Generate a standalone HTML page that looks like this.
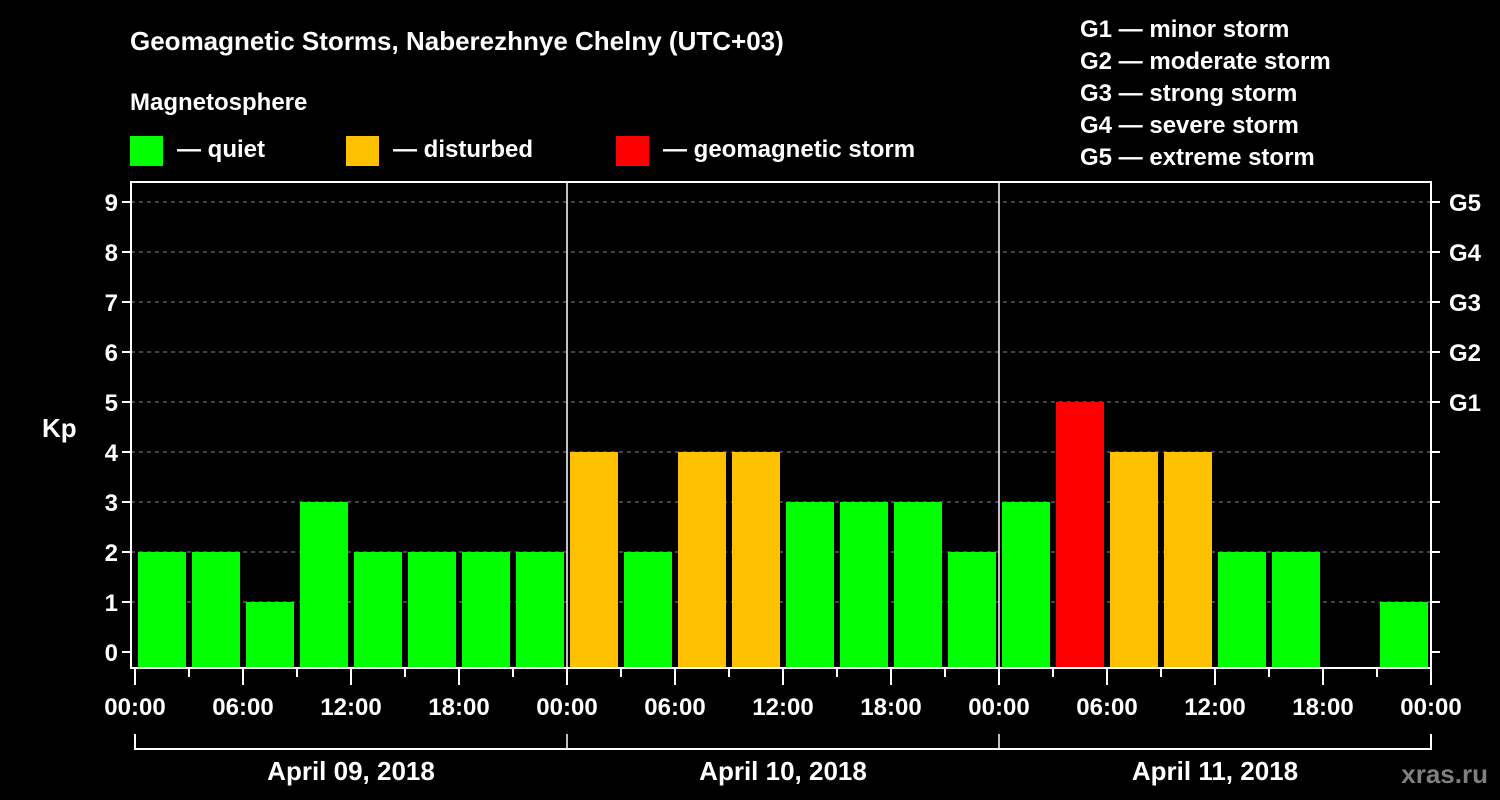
<!DOCTYPE html>
<html><head><meta charset="utf-8"><style>
body{margin:0;background:#000;width:1500px;height:800px;overflow:hidden}
svg{display:block}
text{font-family:"Liberation Sans",sans-serif;font-weight:bold;fill:#fff}
</style></head><body>
<svg id="c" width="1500" height="800">
<text x="130" y="50" font-size="26">Geomagnetic Storms, Naberezhnye Chelny (UTC+03)</text>
<text x="130" y="110" font-size="24">Magnetosphere</text>
<rect x="130" y="136" width="33" height="30" fill="#00ff00"/>
<text x="177" y="157" font-size="24">— quiet</text>
<rect x="346" y="136" width="33" height="30" fill="#ffc000"/>
<text x="393" y="157" font-size="24">— disturbed</text>
<rect x="616" y="136" width="33" height="30" fill="#ff0000"/>
<text x="663" y="157" font-size="24">— geomagnetic storm</text>
<g font-size="24">
<text x="1080" y="37">G1 — minor storm</text>
<text x="1080" y="69">G2 — moderate storm</text>
<text x="1080" y="101">G3 — strong storm</text>
<text x="1080" y="133">G4 — severe storm</text>
<text x="1080" y="165">G5 — extreme storm</text>
</g>
<text x="42" y="437" font-size="26">Kp</text>
<text x="1488" y="783" font-size="26" text-anchor="end" style="fill:#7f7f7f">xras.ru</text>
<g id="plot"></g>
</svg>
<script>
const values=[2,2,1,3,2,2,2,2, 4,2,4,4,3,3,3,2, 3,5,4,4,2,2,null,1];
const yTicks=[0,1,2,3,4,5,6,7,8,9];
const gLabels=["G1","G2","G3","G4","G5"];
const xLabels=["00:00","06:00","12:00","18:00","00:00","06:00","12:00","18:00","00:00","06:00","12:00","18:00","00:00"];
const days=["April 09, 2018","April 10, 2018","April 11, 2018"];
const L=131,R=1431,T=182,B=668,X0=135,slot=54;
const y=v=>652-50*v;
const x=i=>X0+slot*i;
const ns="http://www.w3.org/2000/svg";
const g=document.getElementById('plot');
function mk(t,a){const e=document.createElementNS(ns,t);for(const k in a)e.setAttribute(k,a[k]);g.appendChild(e);return e;}
yTicks.forEach(v=>{
 if(v>0){const l=mk('line',{x1:L,x2:R,y1:y(v),y2:y(v),stroke:'#888','stroke-dasharray':'4,4','stroke-width':1});
 
 }
 const t1=mk('line',{x1:L-9,x2:L,y1:y(v),y2:y(v),stroke:'#fff','stroke-width':2});
 
 
 const t2=mk('line',{x1:R,x2:R+9,y1:y(v),y2:y(v),stroke:'#fff','stroke-width':2});
 
 
 const tx=mk('text',{x:L-13,y:y(v)+9,'font-size':24,'text-anchor':'end'});tx.textContent=v;
 
 
});
gLabels.forEach((s,i)=>{const tx=mk('text',{x:R+18,y:y(5+i)+9,'font-size':24});tx.textContent=s;
 
 });
values.forEach((v,i)=>{
 if(v===null)return;
 const c=v>=5?'#ff0000':v>=4?'#ffc000':'#00ff00';
 const r=mk('rect',{x:x(i)+3,y:y(v),width:48,height:B-y(v),fill:c});
 
 
});
[1,2].forEach(d=>{const l=mk('line',{x1:x(d*8),x2:x(d*8),y1:T,y2:B,stroke:'#fff','stroke-width':1.5});
 
 });
const f=mk('rect',{x:L,y:T,width:R-L,height:B-T,fill:'none',stroke:'#fff','stroke-width':2});


for(let i=0;i<=24;i++){
 const major=i%2===0;
 const t=mk('line',{x1:x(i),x2:x(i),y1:B,y2:B+(major?17:9),stroke:'#fff','stroke-width':2});
 
 
}
xLabels.forEach((s,i)=>{const tx=mk('text',{x:x(i*2),y:715,'font-size':24,'text-anchor':'middle'});tx.textContent=s;
 
 });
const br=mk('path',{d:`M${x(0)},734V749H${x(24)}V734`,fill:'none',stroke:'#fff','stroke-width':2});


[1,2].forEach(d=>{const l=mk('line',{x1:x(d*8),x2:x(d*8),y1:734,y2:749,stroke:'#fff','stroke-width':1.5});
 
 });
days.forEach((s,d)=>{const tx=mk('text',{x:x(d*8+4),y:780,'font-size':26,'text-anchor':'middle'});tx.textContent=s;
 
 });
</script>
</body></html>
